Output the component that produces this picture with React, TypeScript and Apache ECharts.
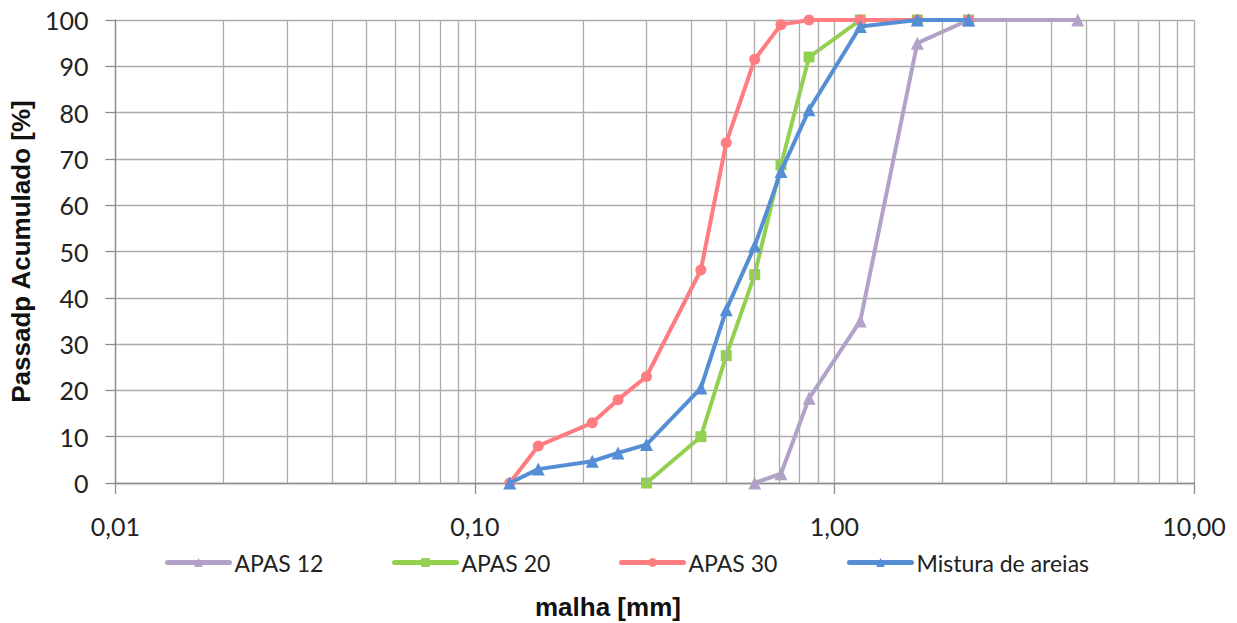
import React, { useEffect, useRef } from "react";
import * as echarts from "echarts";

// Sieve openings (mm)
const sievesAll = [0.125, 0.15, 0.212, 0.25, 0.3, 0.425, 0.5, 0.6, 0.71, 0.85, 1.18, 1.7, 2.36];
const apas12X = [0.6, 0.71, 0.85, 1.18, 1.7, 2.36, 4.75];
const apas12Y = [0, 2, 18.3, 35, 95, 100, 100];
const apas20X = [0.3, 0.425, 0.5, 0.6, 0.71, 0.85, 1.18, 1.7, 2.36];
const apas20Y = [0, 10, 27.5, 45, 68.7, 92, 100, 100, 100];
const apas30Y = [0, 8, 13, 18, 23, 46, 73.5, 91.5, 99, 100, 100, 100, 100];
const misturaY = [0, 3, 4.7, 6.5, 8.3, 20.5, 37.4, 51.2, 67.3, 80.6, 98.6, 100, 100];

const seriesNames = ["APAS 12", "APAS 20", "APAS 30", "Mistura de areias"];
const seriesColors = ["#B3A2C7", "#92D050", "#FF7C80", "#558ED5"];
const seriesSymbols = ["triangle", "rect", "circle", "triangle"];

const minorGridX = [
  0.02, 0.03, 0.04, 0.05, 0.06, 0.07, 0.08, 0.09,
  0.2, 0.3, 0.4, 0.5, 0.6, 0.7, 0.8, 0.9,
  2, 3, 4, 5, 6, 7, 8, 9,
];

const yTitle = "Passadp Acumulado [%]";
const xTitle = "malha [mm]";

const zip = (xs: number[], ys: number[]) => xs.map((x, i) => [x, ys[i]]);

export default function App() {
  const ref = useRef<HTMLDivElement>(null);
  useEffect(() => {
    if (!ref.current) return;
    const chart = echarts.init(ref.current, null, { renderer: "svg" });
    const dataSets = [
      zip(apas12X, apas12Y),
      zip(apas20X, apas20Y),
      zip(sievesAll, apas30Y),
      zip(sievesAll, misturaY),
    ];
    const gridColor = "#ABABAB";
    const legendLefts = [160, 387, 614, 842];
    chart.setOption({
      animation: false,
      grid: { left: 113.5, right: 43, top: 20, bottom: 140, containLabel: false },
      xAxis: {
        type: "log",
        logBase: 10,
        min: 0.01,
        max: 10,
        axisLine: { show: true, lineStyle: { color: "#8C8C8C", width: 1.3 } },
        axisTick: { show: true, length: 11, lineStyle: { color: "#8C8C8C", width: 1.3 } },
        splitLine: { show: true, lineStyle: { color: gridColor, width: 1.3 } },
        axisLabel: {
          fontFamily: "Lato",
          fontSize: 25,
          color: "#222",
          margin: 30,
          formatter: (v: number) => v.toFixed(2).replace(".", ","),
        },
      },
      yAxis: {
        type: "value",
        min: 0,
        max: 100,
        interval: 10,
        name: yTitle,
        nameLocation: "middle",
        nameRotate: 90,
        nameGap: 72,
        nameTextStyle: {
          fontFamily: "Liberation Sans",
          fontWeight: "bold",
          fontSize: 26,
          color: "#111",
        },
        axisLine: { show: true, lineStyle: { color: "#8C8C8C", width: 1.3 } },
        axisTick: { show: true, length: 10, lineStyle: { color: "#8C8C8C", width: 1.3 } },
        splitLine: { show: true, lineStyle: { color: gridColor, width: 1.3 } },
        axisLabel: { fontFamily: "Lato", fontSize: 25, color: "#222", margin: 27 },
      },
      legend: seriesNames.map((n, i) => ({
        data: [n],
        left: legendLefts[i],
        top: 546,
        itemWidth: 62,
        itemHeight: 11,
        itemGap: 5,
        lineStyle: { width: 5, cap: "round" },
        textStyle: { fontFamily: "Lato", fontSize: 23, color: "#222" },
      })),
      graphic: [
        {
          type: "text",
          left: 535,
          top: 594,
          style: {
            text: xTitle,
            fontFamily: "Liberation Sans",
            fontWeight: "bold",
            fontSize: 26,
            fill: "#111",
          },
        },
      ],
      series: [
        {
          type: "line",
          name: "__minor",
          data: [],
          z: 1,
          silent: true,
          markLine: {
            silent: true,
            symbol: "none",
            label: { show: false },
            lineStyle: { color: gridColor, width: 1.3, type: "solid" },
            data: minorGridX.map((v) => ({ xAxis: v })),
          },
        },
        ...seriesNames.map((n, i) => ({
          type: "line",
          name: n,
          data: dataSets[i],
          z: 3 + i,
          symbol: seriesSymbols[i],
          symbolSize: seriesSymbols[i] === "triangle" ? 13 : 11,
          showAllSymbol: true,
          color: seriesColors[i],
          lineStyle: { color: seriesColors[i], width: 4 },
          itemStyle: { color: seriesColors[i] },
          clip: false,
        })),
      ],
    });
    return () => chart.dispose();
  }, []);
  return (
    <div
      ref={ref}
      style={{ position: "fixed", left: 0, top: 0, width: 1237, height: 623, background: "#fff" }}
    />
  );
}
